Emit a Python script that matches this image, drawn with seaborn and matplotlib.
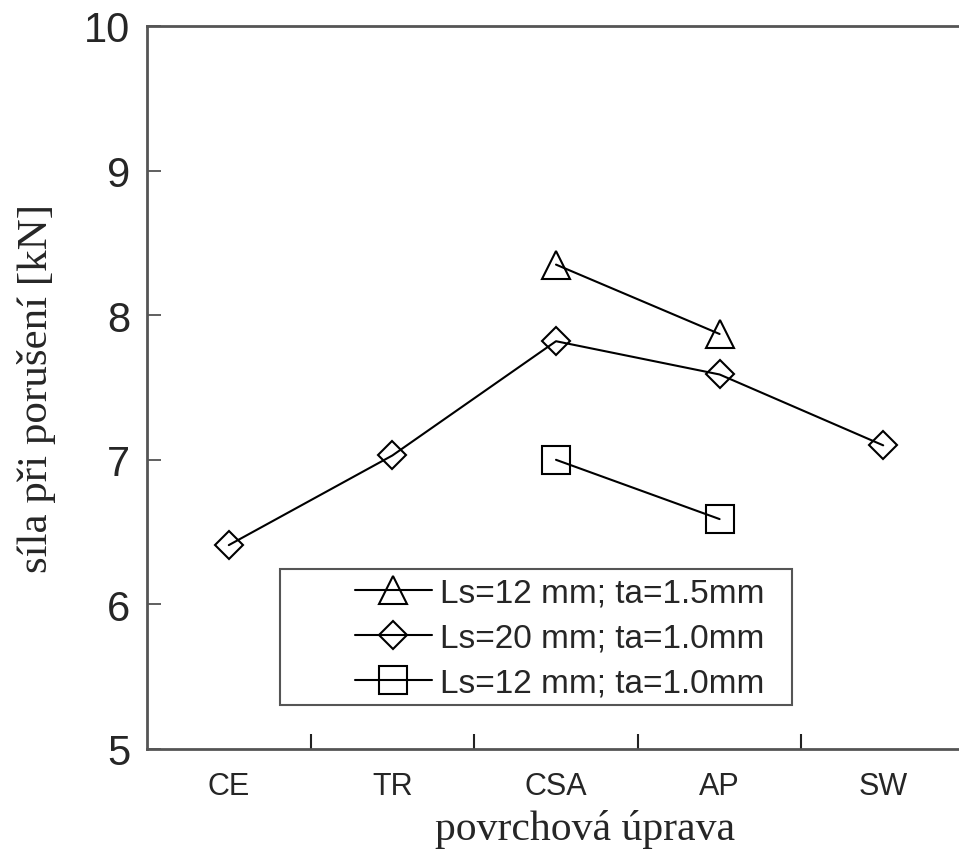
import numpy as np
import pandas as pd
import seaborn as sns
import matplotlib
matplotlib.use('Agg')
import matplotlib.pyplot as plt
from matplotlib.ticker import FixedLocator
from matplotlib.patches import Rectangle

# Data
categories = ['CE', 'TR', 'CSA', 'AP', 'SW']

diamond_x = ['CE', 'TR', 'CSA', 'AP', 'SW']
diamond_y = [6.41, 7.03, 7.82, 7.59, 7.10]

triangle_x = ['CSA', 'AP']
triangle_y = [8.35, 7.87]

square_x = ['CSA', 'AP']
square_y = [7.00, 6.59]

labels = ['Ls=12 mm; ta=1.5mm', 'Ls=20 mm; ta=1.0mm', 'Ls=12 mm; ta=1.0mm']

sns.set_style('white')
plt.rcParams['font.family'] = ['Liberation Sans', 'DejaVu Sans']

fig = plt.figure(figsize=(9.59, 8.54), dpi=100)
ax = fig.add_axes([147 / 959, 104 / 854, 818 / 959, 723 / 854])

pos = {c: i for i, c in enumerate(categories)}
df_d = pd.DataFrame({'x': [pos[c] for c in diamond_x], 'y': diamond_y})
df_t = pd.DataFrame({'x': [pos[c] for c in triangle_x], 'y': triangle_y})
df_s = pd.DataFrame({'x': [pos[c] for c in square_x], 'y': square_y})

# open markers: the connecting line shows through them
common = dict(color='black', linewidth=1.5, markerfacecolor='none',
              markeredgecolor='black', markeredgewidth=1.5)
sns.lineplot(data=df_t, x='x', y='y', marker='^', markersize=19.5, ax=ax,
             label=labels[0], **common)
sns.lineplot(data=df_d, x='x', y='y', marker='D', markersize=14.5, ax=ax,
             label=labels[1], **common)
sns.lineplot(data=df_s, x='x', y='y', marker='s', markersize=19.5, ax=ax,
             label=labels[2], **common)

ax.set_xlim(-0.5, 4.5)
ax.set_ylim(5, 10)
ax.set_xticks(range(len(categories)))
ax.set_xticklabels(categories)
ax.xaxis.set_minor_locator(FixedLocator([0.5, 1.5, 2.5, 3.5]))
ax.tick_params(axis='x', which='major', length=0, pad=16, labelsize=22)
ax.tick_params(axis='x', which='minor', bottom=True, direction='in',
               length=11, width=1.5, color='#222222')
ax.set_yticks([5, 6, 7, 8, 9, 10])
ax.tick_params(axis='y', left=True, direction='in', length=10, width=1.2,
               color='#444444', labelsize=30, pad=12)

for side in ['left', 'top', 'bottom']:
    ax.spines[side].set_color('#555555')
    ax.spines[side].set_linewidth(2)
ax.spines['right'].set_visible(False)

ax.set_xlabel('povrchová úprava', family=['Liberation Serif', 'DejaVu Serif'],
              fontsize=30)
ax.xaxis.set_label_coords(438 / 818, -60 / 723)
ax.set_ylabel('síla při porušení [kN]', family=['Liberation Serif', 'DejaVu Serif'],
              fontsize=31, labelpad=20)

# legend frame drawn separately (wide left padding in the original)
ax.add_patch(Rectangle((133 / 818, 44 / 723), 512 / 818, 136 / 723,
                       transform=ax.transAxes, fill=False,
                       edgecolor='#555555', linewidth=1.5, zorder=5))
leg = ax.legend(loc='upper left', bbox_to_anchor=(208 / 818, 171 / 723),
                fontsize=24, frameon=False, handlelength=2.3,
                handletextpad=0.25, borderpad=0, labelspacing=0.42,
                borderaxespad=0)

fig.savefig('out.png', dpi=100)
